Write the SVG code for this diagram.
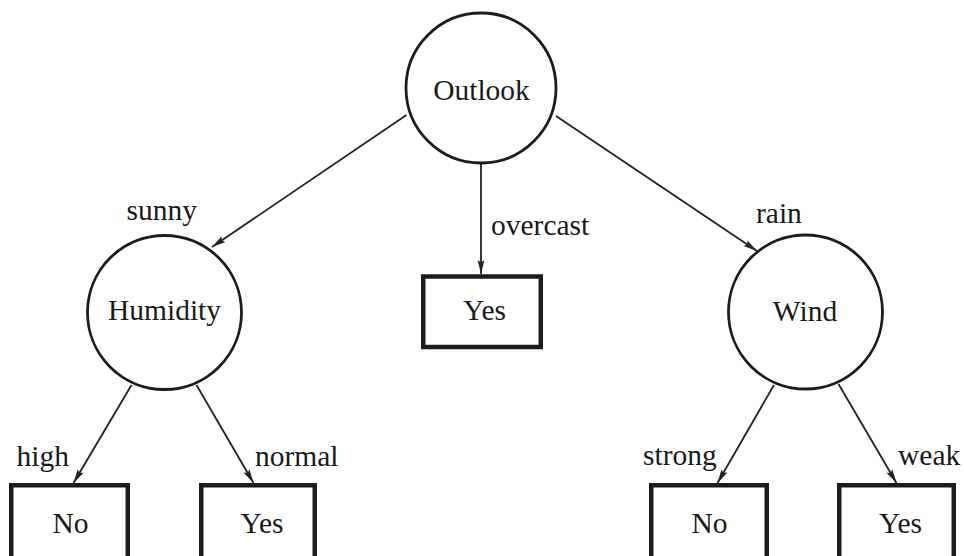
<svg xmlns="http://www.w3.org/2000/svg" width="964" height="556" viewBox="0 0 964 556">
  <style>
    .attr circle { fill: #ffffff; stroke: #1c1c1c; stroke-width: 2.8; }
    .leaf rect { fill: #ffffff; stroke: #1c1c1c; stroke-width: 4.5; }
    .edges line { stroke: #222222; stroke-width: 1.8; fill: none; }
  </style>
  <defs>
    <marker id="arrow" markerUnits="userSpaceOnUse" markerWidth="16" markerHeight="10" refX="14" refY="4" orient="auto" overflow="visible">
      <path d="M0,0.6 L14,4 L0,7.4 L2.5,4 Z" fill="#222222"/>
    </marker>
  </defs>
  <rect x="0" y="0" width="964" height="556" fill="#ffffff"/>

  <!-- branches -->
  <g id="edges" class="edges">
    <line x1="406.5" y1="115" x2="212" y2="247" marker-end="url(#arrow)"/>
    <line x1="481" y1="163" x2="481" y2="274" marker-end="url(#arrow)"/>
    <line x1="556" y1="116" x2="757" y2="251" marker-end="url(#arrow)"/>
    <line x1="131.5" y1="385" x2="73.5" y2="483" marker-end="url(#arrow)"/>
    <line x1="196.5" y1="385" x2="253.5" y2="483" marker-end="url(#arrow)"/>
    <line x1="774" y1="385" x2="717.5" y2="483" marker-end="url(#arrow)"/>
    <line x1="838.5" y1="384" x2="896.5" y2="483" marker-end="url(#arrow)"/>
  </g>

  <!-- branch labels -->
  <g id="edge-labels">
    <text x="126.5" y="220" font-family="Liberation Serif, serif" font-size="29.5" fill="#1a1a1a">sunny</text>
    <text x="491" y="235" font-family="Liberation Serif, serif" font-size="29.5" fill="#1a1a1a">overcast</text>
    <text x="756" y="222.5" font-family="Liberation Serif, serif" font-size="29.5" fill="#1a1a1a">rain</text>
    <text x="16.5" y="466" font-family="Liberation Serif, serif" font-size="29.5" fill="#1a1a1a">high</text>
    <text x="255" y="466" font-family="Liberation Serif, serif" font-size="29.5" fill="#1a1a1a">normal</text>
    <text x="643" y="465" font-family="Liberation Serif, serif" font-size="29.5" fill="#1a1a1a">strong</text>
    <text x="898" y="465" font-family="Liberation Serif, serif" font-size="29.5" fill="#1a1a1a">weak</text>
  </g>

  <!-- decision nodes -->
  <g id="outlook" class="attr">
    <circle cx="481" cy="88" r="75"/>
    <text x="481.5" y="99.5" text-anchor="middle" font-family="Liberation Serif, serif" font-size="29.5" fill="#1a1a1a">Outlook</text>
  </g>
  <g id="humidity" class="attr">
    <circle cx="164.5" cy="312.5" r="77"/>
    <text x="164.5" y="320" text-anchor="middle" font-family="Liberation Serif, serif" font-size="29.5" fill="#1a1a1a">Humidity</text>
  </g>
  <g id="wind" class="attr">
    <circle cx="805.5" cy="312" r="77"/>
    <text x="805" y="321" text-anchor="middle" font-family="Liberation Serif, serif" font-size="29.5" fill="#1a1a1a">Wind</text>
  </g>

  <!-- leaves -->
  <g id="overcast-yes" class="leaf">
    <rect x="423.25" y="276.5" width="117.5" height="70.5"/>
    <text x="484.5" y="320" text-anchor="middle" font-family="Liberation Serif, serif" font-size="29.5" fill="#1a1a1a">Yes</text>
  </g>
  <g id="high-no" class="leaf">
    <rect x="11.25" y="485.25" width="116.5" height="90"/>
    <text x="70.5" y="533" text-anchor="middle" font-family="Liberation Serif, serif" font-size="29.5" fill="#1a1a1a">No</text>
  </g>
  <g id="normal-yes" class="leaf">
    <rect x="201.25" y="485.25" width="113.5" height="90"/>
    <text x="262" y="533" text-anchor="middle" font-family="Liberation Serif, serif" font-size="29.5" fill="#1a1a1a">Yes</text>
  </g>
  <g id="strong-no" class="leaf">
    <rect x="651.25" y="485.25" width="115.5" height="90"/>
    <text x="709.5" y="533" text-anchor="middle" font-family="Liberation Serif, serif" font-size="29.5" fill="#1a1a1a">No</text>
  </g>
  <g id="weak-yes" class="leaf">
    <rect x="839.25" y="485.25" width="114.5" height="90"/>
    <text x="900.5" y="533" text-anchor="middle" font-family="Liberation Serif, serif" font-size="29.5" fill="#1a1a1a">Yes</text>
  </g>
</svg>
